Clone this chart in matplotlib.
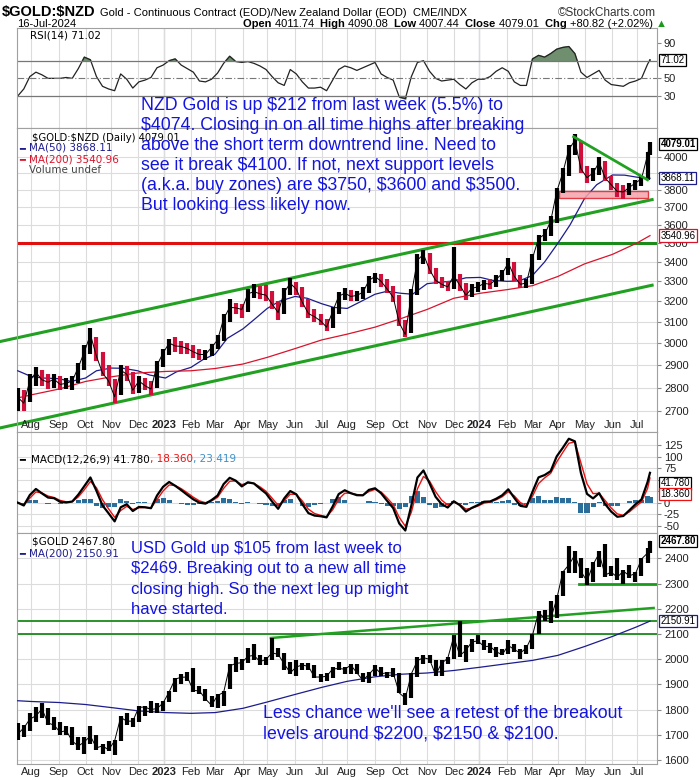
import numpy as np
import pandas as pd
import matplotlib
matplotlib.use("Agg")
import matplotlib.pyplot as plt
from matplotlib.ticker import FixedLocator, NullLocator, FixedFormatter

plt.rcParams['font.family'] = ['Liberation Sans', 'DejaVu Sans']
plt.rcParams['text.parse_math'] = False  # dollar signs are plain text here

# ---------------------------------------------------------------- data
START = '2022-07-14'  # first bar on the chart

# weekly bars (Fridays), last bar is 16-Jul-2024
week_dates = list(pd.date_range('2022-07-15', '2024-07-12', freq='W-FRI').strftime('%Y-%m-%d')) + ['2024-07-16']

nzd_close = [2760, 2735, 2830, 2868, 2835, 2825, 2838, 2815, 2820, 2830,
             2890, 2960, 3040, 2940, 2865, 2830, 2762, 2877, 2860, 2790,
             2830, 2810, 2795, 2900, 2955, 3000, 2987, 2985, 2975, 2960,
             2948, 2948, 2980, 3015, 3115, 3170, 3168, 3160, 3237, 3248,
             3237, 3230, 3186, 3145, 3245, 3290, 3260, 3195, 3140, 3125,
             3105, 3075, 3150, 3225, 3240, 3224, 3229, 3245, 3305, 3325,
             3300, 3261, 3220, 3095, 3040, 3235, 3410, 3440, 3360, 3305,
             3285, 3272, 3328, 3280, 3230, 3265, 3272, 3290, 3285, 3310,
             3340, 3395, 3325, 3285, 3292, 3420, 3525, 3548, 3620, 3790,
             3900, 4045, 4100, 3925, 3872, 3900, 3965, 3870, 3830, 3790,
             3788, 3815, 3840, 3865, 4010, 4079.01]
nzd_high = [2800, 2790, 2860, 2890, 2880, 2860, 2860, 2850, 2845, 2850,
            2910, 2990, 3070, 3030, 2960, 2900, 2840, 2900, 2895, 2870,
            2850, 2845, 2830, 2920, 2975, 3020, 3030, 3010, 3000, 2990,
            2975, 2970, 2995, 3040, 3140, 3210, 3190, 3185, 3260, 3285,
            3275, 3280, 3250, 3200, 3265, 3315, 3295, 3270, 3210, 3160,
            3140, 3115, 3170, 3245, 3265, 3255, 3250, 3270, 3325, 3345,
            3335, 3310, 3275, 3230, 3110, 3260, 3440, 3465, 3450, 3370,
            3320, 3300, 3480, 3340, 3290, 3285, 3295, 3305, 3310, 3330,
            3360, 3420, 3400, 3330, 3310, 3440, 3545, 3575, 3650, 3810,
            3930, 4070, 4140, 4100, 3940, 3930, 4000, 3970, 3880, 3840,
            3830, 3840, 3860, 3880, 4030, 4090.08]
nzd_low = [2700, 2700, 2740, 2810, 2810, 2795, 2800, 2790, 2795, 2790,
           2820, 2880, 2950, 2920, 2850, 2810, 2735, 2770, 2830, 2775,
           2780, 2790, 2770, 2800, 2890, 2945, 2960, 2950, 2950, 2930,
           2925, 2925, 2940, 2975, 3010, 3100, 3140, 3120, 3150, 3215,
           3210, 3200, 3160, 3110, 3140, 3230, 3230, 3170, 3120, 3100,
           3085, 3055, 3070, 3140, 3205, 3200, 3200, 3210, 3240, 3290,
           3270, 3240, 3195, 3080, 3030, 3045, 3230, 3390, 3340, 3285,
           3265, 3250, 3260, 3250, 3205, 3220, 3245, 3255, 3260, 3270,
           3300, 3330, 3300, 3265, 3265, 3285, 3410, 3510, 3540, 3610,
           3780, 3880, 4010, 3900, 3840, 3850, 3890, 3850, 3800, 3760,
           3745, 3770, 3800, 3820, 3860, 4007.44]

usd_close = [1703, 1727, 1762, 1775, 1802, 1747, 1738, 1710, 1717, 1675,
             1655, 1672, 1695, 1648, 1656, 1640, 1676, 1769, 1754, 1754,
             1809, 1810, 1800, 1804, 1826, 1870, 1921, 1928, 1929, 1876,
             1874, 1842, 1817, 1856, 1868, 1973, 1983, 1986, 2011, 2015,
             1990, 1999, 2025, 2019, 1981, 1946, 1969, 1977, 1971, 1929,
             1929, 1932, 1961, 1963, 1960, 1976, 1946, 1916, 1940, 1966,
             1942, 1946, 1945, 1866, 1845, 1942, 1994, 2006, 1999, 1938,
             1984, 2003, 2089, 2014, 2035, 2069, 2072, 2050, 2051, 2029,
             2018, 2054, 2038, 2024, 2045, 2095, 2186, 2161, 2160, 2238,
             2345, 2374, 2413, 2348, 2310, 2375, 2419, 2334, 2345, 2325,
             2349, 2331, 2339, 2397, 2421, 2467.80]
usd_high = [1745, 1740, 1785, 1810, 1825, 1805, 1770, 1750, 1735, 1730,
            1690, 1690, 1735, 1700, 1665, 1675, 1680, 1775, 1785, 1765,
            1815, 1815, 1835, 1825, 1835, 1875, 1925, 1940, 1950, 1965,
            1895, 1880, 1855, 1860, 1875, 1980, 2010, 2000, 2045, 2060,
            2015, 2010, 2085, 2045, 2025, 1990, 1995, 1985, 1985, 1975,
            1940, 1945, 1970, 1990, 1970, 1980, 1980, 1945, 1950, 1975,
            1970, 1950, 1965, 1945, 1865, 1945, 2010, 2015, 2015, 1995,
            1995, 2010, 2095, 2150, 2055, 2080, 2095, 2075, 2065, 2050,
            2040, 2075, 2060, 2040, 2055, 2100, 2190, 2195, 2230, 2255,
            2350, 2450, 2430, 2400, 2360, 2385, 2430, 2455, 2370, 2400,
            2355, 2375, 2345, 2400, 2440, 2470]
usd_low = [1680, 1690, 1715, 1750, 1765, 1740, 1720, 1700, 1700, 1660,
           1640, 1625, 1665, 1640, 1625, 1635, 1620, 1675, 1740, 1730,
           1750, 1775, 1785, 1785, 1795, 1830, 1870, 1900, 1915, 1870,
           1860, 1835, 1810, 1805, 1815, 1880, 1950, 1955, 1985, 1995,
           1975, 1975, 1995, 2010, 1955, 1940, 1935, 1955, 1955, 1925,
           1910, 1915, 1925, 1955, 1940, 1940, 1940, 1910, 1905, 1935,
           1935, 1925, 1930, 1865, 1820, 1845, 1930, 1980, 1985, 1935,
           1935, 1980, 2000, 2010, 1990, 2030, 2060, 2035, 2025, 2010,
           2015, 2020, 2030, 2000, 2020, 2040, 2100, 2150, 2145, 2165,
           2250, 2340, 2340, 2320, 2295, 2305, 2365, 2325, 2330, 2315,
           2300, 2320, 2305, 2330, 2380, 2420]

rsi_vals = [30, 38, 52, 57, 54, 50, 50, 50, 51, 50,
            61, 74, 71, 52, 41, 38, 36, 55, 49, 39,
            46, 48, 51, 62, 65, 70, 72, 65, 61, 57,
            47, 46, 49, 56, 67, 75, 69, 68, 69, 67,
            64, 60, 52, 45, 42, 60, 55, 46, 39, 39,
            40, 36, 48, 60, 64, 62, 59, 62, 65, 68,
            55, 51, 48, 29, 27, 52, 68, 70, 58, 50,
            47, 48, 49, 43, 38, 45, 49, 49, 52, 58,
            62, 58, 46, 42, 42, 72, 76, 74, 78, 83,
            85, 86, 78, 57, 51, 55, 59, 48, 43, 42,
            41, 45, 47, 50, 66, 71.02]

ma50_dates = ['2022-07-15', '2022-08-01', '2022-08-15', '2022-09-01', '2022-09-15', '2022-10-03',
              '2022-10-14', '2022-11-01', '2022-11-15', '2022-12-01', '2022-12-15', '2023-01-03',
              '2023-01-16', '2023-02-01', '2023-02-15', '2023-03-01', '2023-03-15', '2023-04-03',
              '2023-04-17', '2023-05-01', '2023-05-15', '2023-06-01', '2023-06-15', '2023-07-03',
              '2023-07-17', '2023-08-01', '2023-08-15', '2023-09-01', '2023-09-15', '2023-10-02',
              '2023-10-16', '2023-11-01', '2023-11-15', '2023-12-01', '2023-12-15', '2024-01-02',
              '2024-01-16', '2024-02-01', '2024-02-15', '2024-03-01', '2024-03-15', '2024-04-01',
              '2024-04-15', '2024-05-01', '2024-05-15', '2024-06-03', '2024-06-17', '2024-07-01',
              '2024-07-16']
nzd_ma50 = [2875, 2850, 2843, 2840, 2828, 2843, 2875, 2887, 2886, 2875, 2856, 2843,
            2870, 2890, 2925, 2950, 3022, 3067, 3115, 3165, 3200, 3224, 3215, 3188,
            3170, 3165, 3195, 3235, 3250, 3240, 3235, 3288, 3295, 3302, 3318, 3320,
            3305, 3300, 3302, 3330, 3400, 3500, 3600, 3750, 3830, 3888, 3887, 3875,
            3868.11]

ma200_dates = ['2022-07-15', '2022-08-01', '2022-09-01', '2022-10-03', '2022-11-01', '2022-12-01',
               '2023-01-03', '2023-02-01', '2023-03-01', '2023-04-03', '2023-05-01', '2023-06-01',
               '2023-07-03', '2023-08-01', '2023-09-01', '2023-10-02', '2023-11-01', '2023-12-01',
               '2024-01-02', '2024-02-01', '2024-03-01', '2024-04-01', '2024-05-01', '2024-06-03',
               '2024-07-01', '2024-07-16']
nzd_ma200 = [2757, 2770, 2795, 2828, 2848, 2865, 2872, 2875, 2885, 2905, 2935, 2975,
             3015, 3042, 3075, 3115, 3160, 3215, 3240, 3258, 3278, 3325, 3390, 3440,
             3500, 3540.96]
usd_ma200 = [1835, 1832, 1828, 1820, 1808, 1795, 1788, 1785, 1788, 1805, 1830, 1860,
             1888, 1912, 1930, 1940, 1945, 1955, 1968, 1982, 1995, 2015, 2050, 2090,
             2128, 2150.91]

month_labels = ['Aug', 'Sep', 'Oct', 'Nov', 'Dec', '2023', 'Feb', 'Mar', 'Apr', 'May', 'Jun', 'Jul',
                'Aug', 'Sep', 'Oct', 'Nov', 'Dec', '2024', 'Feb', 'Mar', 'Apr', 'May', 'Jun', 'Jul']
month_starts = list(pd.date_range('2022-08-01', '2024-07-01', freq='MS').strftime('%Y-%m-%d'))

# trend lines drawn on the chart: (date, price) pairs
channel_top = [('2022-06-24', 3007), ('2024-07-19', 3745)]
channel_bottom = [('2022-06-24', 2632), ('2024-07-19', 3282)]
downtrend = [('2024-04-18', 4124), ('2024-07-12', 3859)]
support_box = ('2024-04-02', '2024-07-12', 3751, 3792)
level_3500 = 3500
level_3500_switch = '2024-03-04'
usd_levels = [2150, 2100]
usd_2300 = ('2024-04-24', 2300)
usd_breakout_line = [('2023-05-04', 2084), ('2024-07-19', 2203)]


def bx(d):
    return np.busday_count(np.datetime64(START), np.datetime64(d))


wx = np.array([bx(d) for d in week_dates])
mx = np.array([bx(d) for d in month_starts])
ma50_x = np.array([bx(d) for d in ma50_dates])
ma200_x = np.array([bx(d) for d in ma200_dates])

# MACD(12,26,9) from the weekly closes (daily EMA decay rates per 5 bars)
close = pd.Series(nzd_close)
ema_fast = close.ewm(alpha=1 - (11 / 13) ** 5, adjust=False).mean()
ema_slow = close.ewm(alpha=1 - (25 / 27) ** 5, adjust=False).mean()
macd = ema_fast - ema_slow
signal = macd.ewm(alpha=1 - (8 / 10) ** 5, adjust=False).mean()
hist = macd - signal

# ---------------------------------------------------------------- figure
W, H = 700, 780
fig = plt.figure(figsize=(7, 7.8), dpi=100)


def fx(x):
    return x / W


def fy(y):
    return 1 - y / H


def panel(top, bottom):
    return fig.add_axes([fx(17), fy(bottom), (657 - 17) / W, (bottom - top) / H])


ax_rsi = panel(28, 128)
ax_px = panel(128, 432)
ax_macd = panel(432, 533)
ax_gold = panel(533, 764)

GRID = '#dcdcdc'
for ax in (ax_rsi, ax_px, ax_macd, ax_gold):
    ax.set_xlim(0.4, 528.8)
    ax.set_xticks(mx)
    ax.tick_params(axis='x', length=0, labelbottom=False)
    ax.yaxis.tick_right()
    ax.tick_params(axis='y', labelsize=8, length=3, pad=2, color='#888888', labelcolor='#222222')
    ax.grid(True, axis='x', color=GRID, lw=0.8)
    for m, lab in zip(mx, month_labels):
        if lab.isdigit():
            ax.axvline(m, color='#b8b8c8', lw=0.9, zorder=0.5)
    for s in ax.spines.values():
        s.set_color('#a0a0a0')
    ax.set_axisbelow(True)


def price_bars(ax, hi, lo, cl, colors):
    ax.vlines(wx, lo, hi, colors=colors, lw=3.0, zorder=4)
    ax.plot(wx, cl, color='black', lw=0.7, zorder=4)


# ---------------- RSI
rsi = np.array(rsi_vals)
ax_rsi.set_ylim(-6.2, 107)
ax_rsi.plot(wx, rsi, color='#222222', lw=0.9)
ax_rsi.fill_between(wx, rsi, 70, where=rsi > 70, interpolate=True, color='#6f8f6f')
ax_rsi.fill_between(wx, rsi, 30, where=rsi < 30, interpolate=True, color='#6f8f6f')
ax_rsi.axhline(70, color='#777777', lw=0.9)
ax_rsi.axhline(30, color='#777777', lw=0.9)
ax_rsi.axhline(50, color='#777777', lw=0.8, ls=(0, (6, 2, 1, 2)))
ax_rsi.yaxis.set_major_locator(FixedLocator([30, 50, 90]))

# ---------------- NZD price panel
ax_px.set_yscale('log')
ax_px.set_ylim(2616, 4180)
ticks = list(range(2700, 4001, 100))
ax_px.yaxis.set_major_locator(FixedLocator(ticks))
ax_px.yaxis.set_major_formatter(FixedFormatter(['' if t == 3900 else str(t) for t in ticks]))
ax_px.yaxis.set_minor_locator(NullLocator())
ax_px.grid(True, axis='y', color=GRID, lw=0.8)

up = np.diff(nzd_close, prepend=nzd_close[0]) >= 0
price_bars(ax_px, nzd_high, nzd_low, nzd_close, np.where(up, 'black', '#d0103a'))
ax_px.plot(ma50_x, nzd_ma50, color='#1c1c8c', lw=0.9, zorder=3)
ax_px.plot(ma200_x, nzd_ma200, color='#d8142c', lw=0.9, zorder=3)

ax_px.plot([wx[0] - 1, bx(level_3500_switch)], [level_3500] * 2, color='#e01010', lw=2.2, zorder=2)
ax_px.plot([bx(level_3500_switch), 529], [level_3500] * 2, color='#1a8a1a', lw=2.2, zorder=2)
for line in (channel_top, channel_bottom):
    ax_px.plot([bx(line[0][0]), bx(line[1][0])], [line[0][1], line[1][1]],
               color='#22a022', lw=2.2, clip_on=False, zorder=2, solid_capstyle='butt')
ax_px.plot([bx(downtrend[0][0]), bx(downtrend[1][0])], [downtrend[0][1], downtrend[1][1]],
           color='#22a022', lw=2.0, zorder=5)
b0, b1, lo, hi = support_box
ax_px.fill_between([bx(b0), bx(b1)], lo, hi, facecolor='#f4a4ac', edgecolor='#e0202c', lw=1.0, alpha=0.85, zorder=3)

xt = ax_px.get_xaxis_transform()
for m, lab in zip(mx, month_labels):
    ax_px.text(m, 0.022, lab, transform=xt, ha='center', va='center', fontsize=8,
               fontweight='bold' if lab.isdigit() else 'normal', color='#222222')

# ---------------- MACD panel
ax_macd.set_ylim(-65.8, 153.2)
ax_macd.yaxis.set_major_locator(FixedLocator([-50, -25, 0, 25, 50, 75, 100, 125]))
ax_macd.yaxis.set_major_formatter(FixedFormatter(['-50', '-25', '0', '', '', '75', '100', '125']))
ax_macd.grid(True, axis='y', color=GRID, lw=0.8)
ax_macd.bar(wx, hist, width=4.2, color='#2b6e99', zorder=2)
ax_macd.plot(wx, signal, color='#ee1111', lw=1.0, zorder=3)
ax_macd.plot(wx, macd, color='black', lw=1.6, zorder=4)

# ---------------- USD gold panel
ax_gold.set_ylim(1584, 2500.4)
ax_gold.yaxis.set_major_locator(FixedLocator(list(range(1600, 2401, 100))))
ax_gold.grid(True, axis='y', color=GRID, lw=0.8)
price_bars(ax_gold, usd_high, usd_low, usd_close, 'black')
ax_gold.plot(ma200_x, usd_ma200, color='#1c1c8c', lw=0.9, zorder=3)
for lv in usd_levels:
    ax_gold.axhline(lv, color='#1a8a1a', lw=1.3, zorder=2)
ax_gold.plot([bx(usd_2300[0]), 529], [usd_2300[1]] * 2, color='#1a9a1a', lw=2.0, zorder=2)
ax_gold.plot([bx(usd_breakout_line[0][0]), bx(usd_breakout_line[1][0])],
             [usd_breakout_line[0][1], usd_breakout_line[1][1]], color='#22a022', lw=1.8, zorder=2)
xt = ax_gold.get_xaxis_transform()
for m, lab in zip(mx, month_labels):
    ax_gold.text(m, -0.034, lab, transform=xt, ha='center', va='center', fontsize=8,
                 fontweight='bold' if lab.isdigit() else 'normal', color='#222222', clip_on=False)


# ---------------- value tags on the right
def tag(ax, val, txt, ec, bold=False):
    ax.annotate(txt, xy=(1, val), xycoords=ax.get_yaxis_transform(), xytext=(2.5, 0),
                textcoords='offset points', ha='left', va='center', fontsize=7,
                color='black', fontweight='bold' if bold else 'normal',
                bbox=dict(boxstyle='square,pad=0.12', fc='white', ec=ec, lw=0.9),
                annotation_clip=False, zorder=10)


tag(ax_rsi, 71.02, '71.02', 'black')
tag(ax_px, 4079.01, '4079.01', 'black', bold=True)
tag(ax_px, 3868.11, '3868.11', '#1c1c8c')
tag(ax_px, 3540.96, '3540.96', '#d8142c')
tag(ax_macd, 41.78, '41.780', 'black')
tag(ax_macd, 18.36, '18.360', '#ee1111')
tag(ax_gold, 2467.80, '2467.80', 'black', bold=True)
tag(ax_gold, 2150.91, '2150.91', '#1c1c8c')

# ---------------- header and legends
renderer = fig.canvas.get_renderer()


def run_text(x, y, pieces, size, family=None):
    for s, weight, color in pieces:
        t = fig.text(fx(x), fy(y), s, fontsize=size, fontweight=weight, color=color,
                     va='baseline', family=family)
        x += t.get_window_extent(renderer).width


fig.text(fx(2), fy(16), '$GOLD:$NZD', fontsize=10.5, fontweight='bold', va='baseline')
fig.text(fx(100), fy(16), 'Gold - Continuous Contract (EOD)/New Zealand Dollar (EOD)  CME/INDX',
         fontsize=8, va='baseline')
fig.text(fx(656), fy(16), '\u00a9StockCharts.com', fontsize=8.5, ha='right', va='baseline', color='#333333')
fig.text(fx(17), fy(27), '16-Jul-2024', fontsize=8, va='baseline')
run_text(243, 27, [('Open ', 'bold', 'black'), ('4011.74  ', 'normal', 'black'),
                   ('High ', 'bold', 'black'), ('4090.08  ', 'normal', 'black'),
                   ('Low ', 'bold', 'black'), ('4007.44  ', 'normal', 'black'),
                   ('Close ', 'bold', 'black'), ('4079.01  ', 'normal', 'black'),
                   ('Chg ', 'bold', 'black'), ('+80.82 (+2.02%) ', 'normal', 'black'),
                   ('\u25b2', 'normal', '#1a9a1a')], 8)

LEG = ['DejaVu Sans']
fig.text(fx(30), fy(38), 'RSI(14) 71.02', fontsize=7.5, family=LEG, va='baseline')
fig.text(fx(32), fy(141), '$GOLD:$NZD (Daily) 4079.01', fontsize=7.2, family=LEG, va='baseline')
fig.text(fx(19), fy(151), '\u2501', fontsize=7, family=LEG, va='baseline', color='#1c1c8c')
fig.text(fx(29), fy(151), 'MA(50) 3868.11', fontsize=7.5, family=LEG, va='baseline', color='#1c1c8c')
fig.text(fx(19), fy(162), '\u2501', fontsize=7, family=LEG, va='baseline', color='#d8142c')
fig.text(fx(29), fy(162), 'MA(200) 3540.96', fontsize=7.5, family=LEG, va='baseline', color='#d8142c')
fig.text(fx(29), fy(173), 'Volume undef', fontsize=7.5, family=LEG, va='baseline', color='#444444')
fig.text(fx(19), fy(462), '\u2501', fontsize=7, family=LEG, va='baseline')
run_text(31, 462, [('MACD(12,26,9) 41.780', 'normal', 'black'), (', 18.360', 'normal', '#ee1111'),
                   (', 23.419', 'normal', '#3f8fc4')], 7.5, family=LEG)
fig.text(fx(32), fy(544), '$GOLD 2467.80', fontsize=7.5, family=LEG, va='baseline')
fig.text(fx(19), fy(556), '\u2501', fontsize=7, family=LEG, va='baseline', color='#1c1c8c')
fig.text(fx(29), fy(556), 'MA(200) 2150.91', fontsize=7.5, family=LEG, va='baseline', color='#1c1c8c')

# ---------------- commentary
BLUE = '#1414e0'
nzd_note = ['NZD Gold is up $212 from last week (5.5%) to',
            '$4074. Closing in on all time highs after breaking',
            'above the short term downtrend line. Need to',
            'see it break $4100. If not, next support levels',
            '(a.k.a. buy zones) are $3750, $3600 and $3500.',
            'But looking less likely now.']
for i, s in enumerate(nzd_note):
    fig.text(fx(141), fy(110 + 20 * i), s, fontsize=12.8, color=BLUE, va='baseline', zorder=20)

usd_note = ['USD Gold up $105 from last week to',
            '$2469. Breaking out to a new all time',
            'closing high. So the next leg up might',
            'have started.']
for i, s in enumerate(usd_note):
    fig.text(fx(131), fy(553 + 20.3 * i), s, fontsize=12, color=BLUE, va='baseline', zorder=20)

retest_note = ['Less chance we\'ll see a retest of the breakout',
               'levels around $2200, $2150 & $2100.']
for i, s in enumerate(retest_note):
    fig.text(fx(263), fy(718 + 20.3 * i), s, fontsize=12.8, color=BLUE, va='baseline', zorder=20)

fig.savefig('out.png', dpi=100)
